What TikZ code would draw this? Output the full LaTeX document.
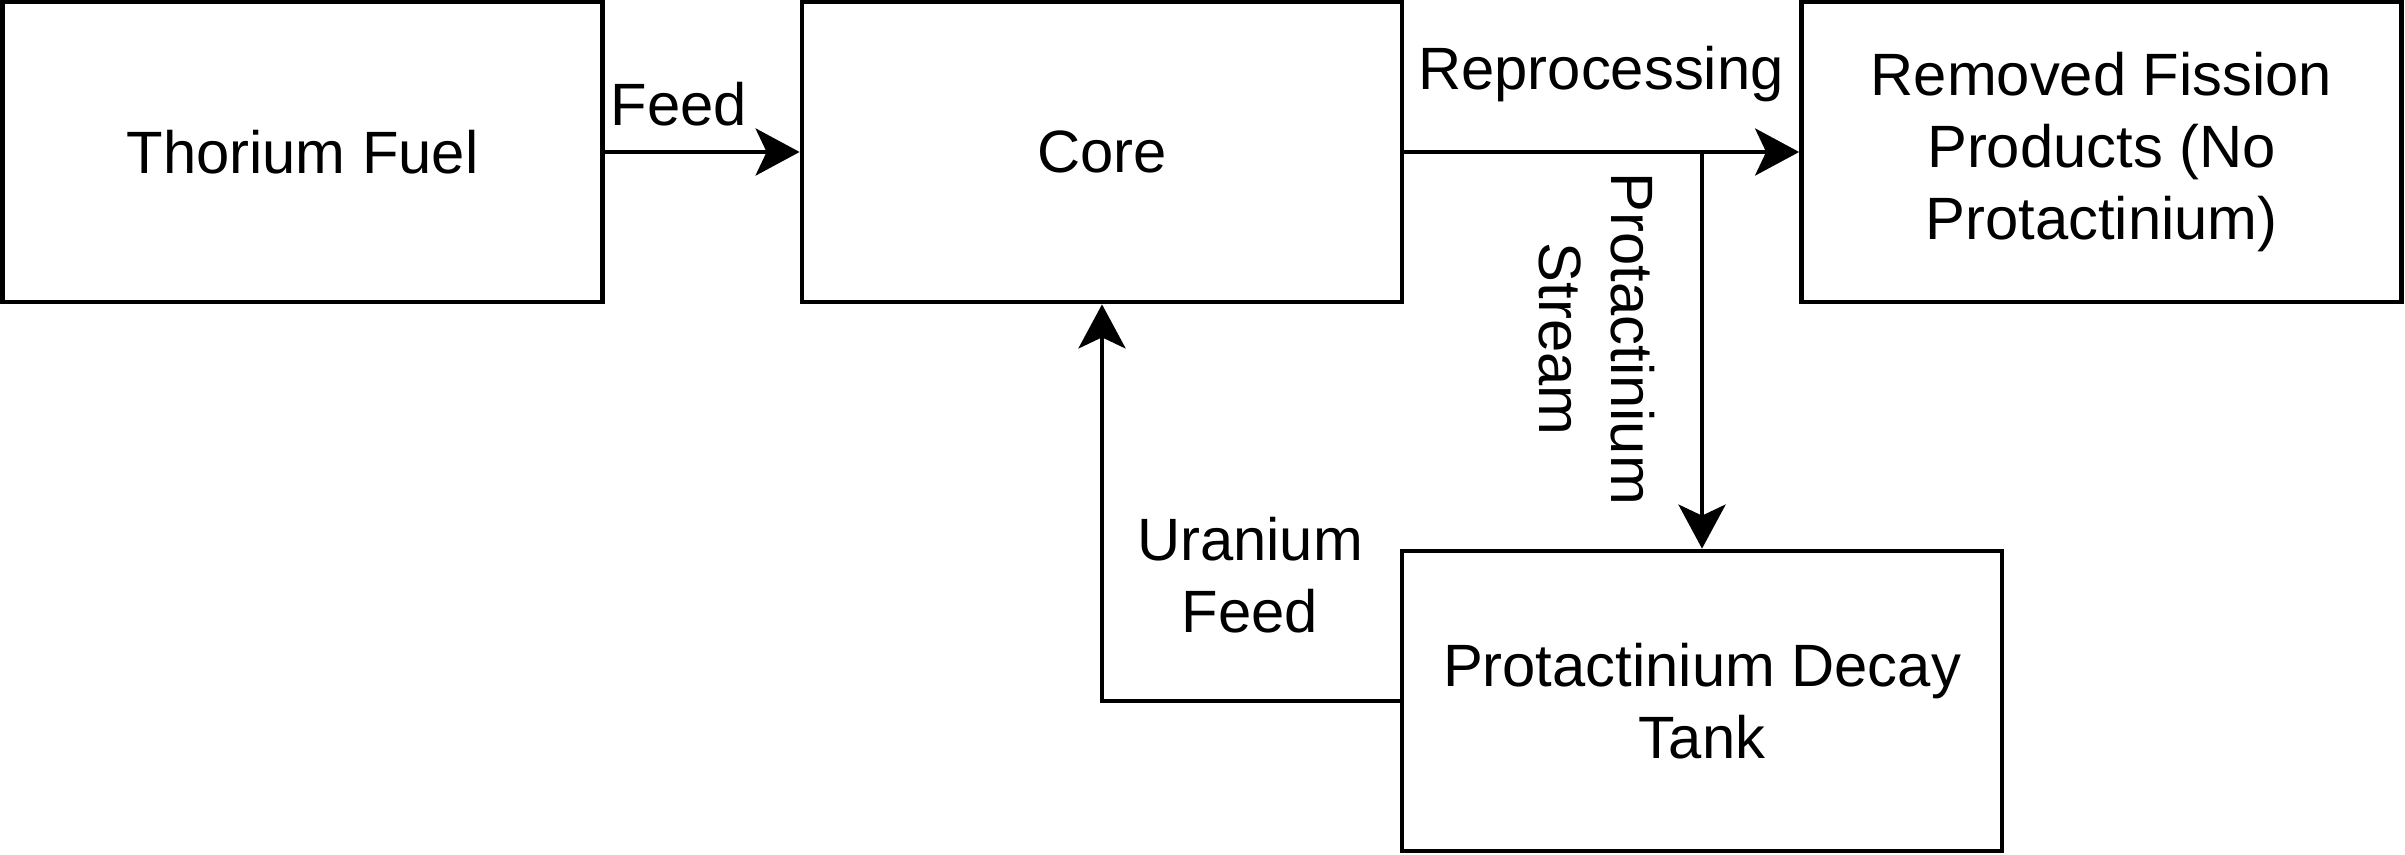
\documentclass[tikz,border=0pt]{standalone}
\usepackage{fontspec}
\setmainfont{Liberation Sans}
\usetikzlibrary{arrows.meta,positioning,calc}

\begin{document}
\begin{tikzpicture}[
  font=\fontsize{17}{20.5}\selectfont,
  flow/.style={-{Stealth[length=4.4mm, width=4.7mm, inset=1.1mm]}, line width=1.35pt, draw=black},
  block/.style={draw=black, line width=1.35pt, fill=white, align=center,
                minimum width=6.0cm, minimum height=3.0cm, inner sep=1mm},
  lbl/.style={align=center, inner sep=0.5mm}
]
\useasboundingbox (0,0) rectangle (24.05,-8.55);

% blocks
\node[block] (thorium) at (3.025,-1.52) {Thorium Fuel};
\node[block] (core) at (11.02,-1.52) {Core};
\node[block] (removed) at (21.015,-1.52)
  {Removed Fission\\Products (No\\Protactinium)};
\node[block] (tank) at (17.02,-7.01) {Protactinium Decay\\Tank};

% main flow
\draw[flow] (thorium.east) -- (core.west);
\draw[flow] (core.east) -- (removed.west);
\coordinate (split) at (tank.north |- core.east);
\draw[flow] (split) -- (tank.north);
\draw[flow] (tank.west) -| (core.south);

% labels
\node[lbl] (feedlbl) at (6.79,-1.04) {Feed};
\node[lbl] (reproclbl) at (16.01,-0.74) {Reprocessing};
\node[lbl, rotate=-90] (streamlbl) at (15.97,-3.39) {Protactinium\\Stream};
\node[lbl] (uranlbl) at (12.50,-5.75) {Uranium\\Feed};

\end{tikzpicture}
\end{document}
